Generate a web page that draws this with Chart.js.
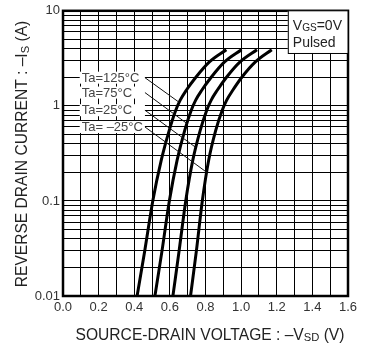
<!DOCTYPE html>
<html>
<head>
<meta charset="utf-8">
<script src="https://cdn.jsdelivr.net/npm/chart.js@4/dist/chart.umd.min.js"></script>
<style>
  html, body { margin: 0; padding: 0; background: #fff; }
  #wrap { width: 367px; height: 349px; position: relative; }
</style>
</head>
<body>
<div id="wrap"><canvas id="c" width="367" height="349"></canvas></div>
<script>
// ---- data ----
const currents   = [0.01, 0.03, 0.1, 0.27, 0.55, 0.9, 1.15, 1.45, 2, 2.9, 3.9];   // -Is (A)
const vsd125     = [0.416, 0.459, 0.504, 0.552, 0.596, 0.633, 0.658, 0.691, 0.746, 0.822, 0.917];
const vsd75      = [0.516, 0.556, 0.597, 0.641, 0.683, 0.720, 0.745, 0.778, 0.832, 0.907, 1.002];
const vsd25      = [0.617, 0.652, 0.689, 0.729, 0.770, 0.807, 0.832, 0.865, 0.918, 0.994, 1.089];
const vsdm25     = [0.716, 0.749, 0.782, 0.818, 0.857, 0.894, 0.919, 0.952, 1.004, 1.080, 1.172];
const seriesNames = ['Ta=125°C', 'Ta=75°C', 'Ta=25°C', 'Ta= –25°C'];
const xTickLabels = ['0.0','0.2','0.4','0.6','0.8','1.0','1.2','1.4','1.6'];
const yTickLabels = ['0.01','0.1','1','10'];
const yTickValues = [0.01, 0.1, 1, 10];
// annotation anchors (data coords): label current level, leader end point on curve
const labelCurrents = [1.98, 1.38, 0.90, 0.60];
const leaderEndV    = [0.652, 0.697, 0.746, 0.807];
const leaderEndI    = [1.09, 0.65, 0.365, 0.20];
const labelLeftV = 0.105, leaderStartV = 0.46;

function toPts(vs) { return vs.map((v, i) => ({ x: v, y: currents[i] })); }

// log grid values 1..9 per decade
const yGrid = [];
[0.01, 0.1, 1].forEach(d => { for (let k = 1; k <= 9; k++) yGrid.push(+(k * d).toPrecision(3)); });
yGrid.push(10);

const FONT = '"Liberation Sans", Arial, Helvetica, sans-serif';

function drawRich(ctx, parts, size) {
  let x = 0;
  parts.forEach(p => {
    const s = p.sub ? size * 0.72 : size;
    ctx.font = s + 'px ' + FONT;
    ctx.fillText(p.t, x, p.sub ? size * 0.12 : 0);
    x += ctx.measureText(p.t).width;
  });
  return x;
}
function richWidth(ctx, parts, size) {
  let w = 0;
  parts.forEach(p => {
    ctx.font = (p.sub ? size * 0.72 : size) + 'px ' + FONT;
    w += ctx.measureText(p.t).width;
  });
  return w;
}

const overlay = {
  id: 'overlay',
  afterDatasetsDraw(chart) {
    const ctx = chart.ctx, ca = chart.chartArea;
    const xs = chart.scales.x, ys = chart.scales.y;
    ctx.save();
    // frame
    ctx.strokeStyle = '#000';
    ctx.lineWidth = 2.5;
    ctx.strokeRect(ca.left, ca.top, ca.right - ca.left, ca.bottom - ca.top);

    // temperature labels with leaders
    ctx.font = '13px ' + FONT;
    ctx.textBaseline = 'middle';
    for (let i = 0; i < seriesNames.length; i++) {
      const yPix = ys.getPixelForValue(labelCurrents[i]);
      const x0 = xs.getPixelForValue(labelLeftV);
      const x1 = xs.getPixelForValue(leaderStartV);
      ctx.fillStyle = '#fff';
      ctx.fillRect(x0 - 2, yPix - 6, x1 - x0 + 2, 12);
      ctx.fillStyle = '#444';
      ctx.fillText(seriesNames[i], x0, yPix + 0.5);
      ctx.strokeStyle = '#111';
      ctx.lineWidth = 1;
      ctx.beginPath();
      ctx.moveTo(x1, yPix);
      ctx.lineTo(xs.getPixelForValue(leaderEndV[i]), ys.getPixelForValue(leaderEndI[i]));
      ctx.stroke();
    }

    // condition box
    const bx0 = xs.getPixelForValue(1.262), by1 = ys.getPixelForValue(3.6);
    ctx.fillStyle = '#fff';
    ctx.fillRect(bx0, ca.top, ca.right - bx0, by1 - ca.top);
    ctx.strokeStyle = '#000';
    ctx.lineWidth = 1;
    ctx.strokeRect(bx0 + 0.5, ca.top, ca.right - bx0 - 0.5, by1 - ca.top + 0.5);
    ctx.fillStyle = '#222';
    ctx.textBaseline = 'alphabetic';
    ctx.save();
    ctx.translate(bx0 + 5, ca.top + 19);
    drawRich(ctx, [{t:'V'},{t:'GS',sub:true},{t:'=0V'}], 14);
    ctx.restore();
    ctx.font = '14px ' + FONT;
    ctx.fillText('Pulsed', bx0 + 5, ca.top + 36);

    // axis titles
    ctx.fillStyle = '#222';
    const TS = 15.6;
    const xt = [{t:'SOURCE-DRAIN VOLTAGE : –V'},{t:'SD',sub:true},{t:' (V)'}];
    const wx = richWidth(ctx, xt, TS);
    ctx.save();
    ctx.translate(210 - wx / 2 + (ca.left - 63), ca.bottom + 43.5);
    drawRich(ctx, xt, TS);
    ctx.restore();

    const yt = [{t:'REVERSE DRAIN CURRENT : –I'},{t:'S',sub:true},{t:' (A)'}];
    const wy = richWidth(ctx, yt, TS);
    ctx.save();
    ctx.translate(27, 154 + wy / 2);
    ctx.rotate(-Math.PI / 2);
    drawRich(ctx, yt, TS);
    ctx.restore();

    ctx.restore();
  }
};

const mkDs = (vs) => ({
  data: toPts(vs),
  borderColor: '#000',
  borderWidth: 3,
  pointRadius: 0,
  fill: false,
  cubicInterpolationMode: 'monotone'
});

new Chart(document.getElementById('c'), {
  type: 'line',
  data: { datasets: [mkDs(vsd125), mkDs(vsd75), mkDs(vsd25), mkDs(vsdm25)] },
  options: {
    responsive: false,
    animation: false,
    devicePixelRatio: 1,
    layout: { padding: { top: 10, right: 19, left: 0, bottom: 0 } },
    plugins: { legend: { display: false }, tooltip: { enabled: false } },
    scales: {
      x: {
        type: 'linear', min: 0, max: 1.6,
        ticks: {
          stepSize: 0.1, autoSkip: false, maxRotation: 0,
          color: '#333', font: { size: 13, family: FONT }, padding: 4,
          callback: (v, i) => (i % 2 === 0 ? xTickLabels[i / 2] : '')
        },
        grid: { color: '#000', lineWidth: 1, drawTicks: false },
        border: { display: false },
        afterFit: (s) => { s.height = 53; }
      },
      y: {
        type: 'logarithmic', min: 0.01, max: 10,
        afterBuildTicks: (s) => { s.ticks = yGrid.map(v => ({ value: v })); },
        ticks: {
          autoSkip: false, color: '#333', font: { size: 13, family: FONT }, padding: 3,
          callback: (v) => {
            const k = yTickValues.findIndex(t => Math.abs(t - v) / t < 1e-6);
            return k >= 0 ? yTickLabels[k] : '';
          }
        },
        grid: { color: '#000', lineWidth: 1, drawTicks: false },
        border: { display: false },
        afterFit: (s) => { s.width = 63; }
      }
    }
  },
  plugins: [overlay]
});
</script>
</body>
</html>
